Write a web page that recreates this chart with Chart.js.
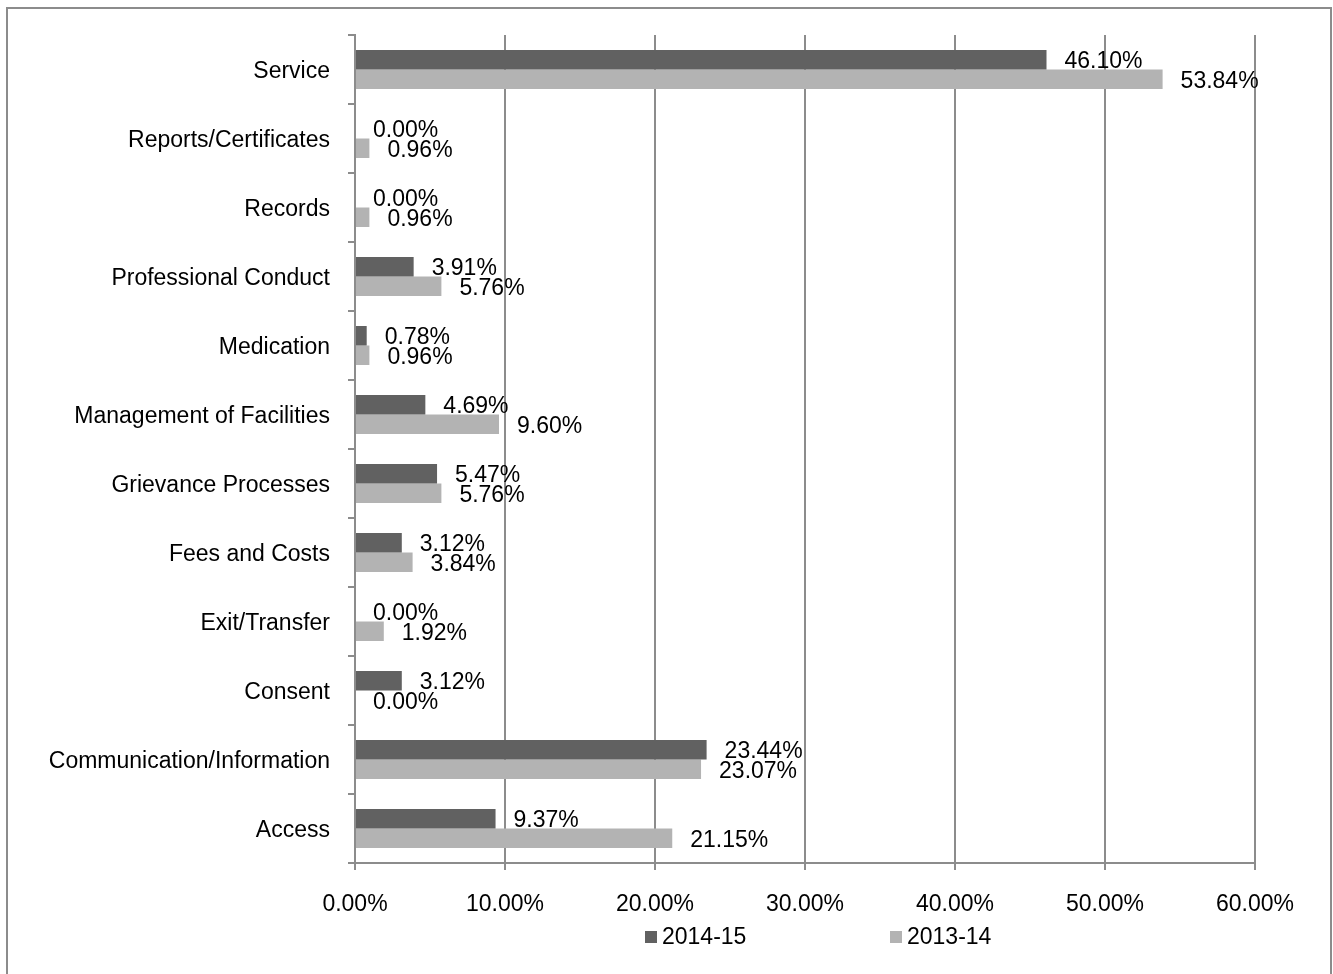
<!DOCTYPE html>
<html>
<head>
<meta charset="utf-8">
<title>Complaint categories 2014-15 vs 2013-14</title>
<script src="https://cdn.jsdelivr.net/npm/chart.js@4.4.1/dist/chart.umd.min.js"></script>
<style>
  html, body { margin: 0; padding: 0; background: #ffffff; }
  canvas { display: block; }
</style>
</head>
<body>
<canvas id="chart" width="1333" height="974"></canvas>
<script>
// Complaint categories, listed top to bottom
const categories = [
  'Service',
  'Reports/Certificates',
  'Records',
  'Professional Conduct',
  'Medication',
  'Management of Facilities',
  'Grievance Processes',
  'Fees and Costs',
  'Exit/Transfer',
  'Consent',
  'Communication/Information',
  'Access'
];

// Share of complaints (%) per category
const values2014_15 = [46.10, 0.00, 0.00, 3.91, 0.78, 4.69, 5.47, 3.12, 0.00, 3.12, 23.44, 9.37];
const values2013_14 = [53.84, 0.96, 0.96, 5.76, 0.96, 9.60, 5.76, 3.84, 1.92, 0.00, 23.07, 21.15];

const seriesNames = ['2014-15', '2013-14'];
const seriesColors = ['#616161', '#b3b3b3'];

const FONT = '"Liberation Sans", Arial, sans-serif';
const AXIS_GRAY = '#8c8c8c';

Chart.defaults.font.family = FONT;
Chart.defaults.font.size = 23;
Chart.defaults.color = '#000000';

// Thin grey frame around the whole chart
const framePlugin = {
  id: 'frame',
  beforeDraw(chart) {
    const ctx = chart.ctx;
    ctx.save();
    ctx.strokeStyle = AXIS_GRAY;
    ctx.lineWidth = 2;
    ctx.strokeRect(7, 8, 1324, 1000);
    ctx.restore();
  }
};

// Value labels just past the end of each bar
const valueLabelPlugin = {
  id: 'valueLabels',
  afterDatasetsDraw(chart) {
    const ctx = chart.ctx;
    ctx.save();
    ctx.font = '23px ' + FONT;
    ctx.fillStyle = '#000000';
    ctx.textAlign = 'left';
    ctx.textBaseline = 'middle';
    chart.data.datasets.forEach((ds, di) => {
      const meta = chart.getDatasetMeta(di);
      meta.data.forEach((bar, i) => {
        const v = ds.data[i];
        ctx.fillText(v.toFixed(2) + '%', bar.x + 18, bar.y + 2);
      });
    });
    ctx.restore();
  }
};

// Series key under the axis labels
const keyPlugin = {
  id: 'seriesKey',
  afterDraw(chart) {
    const ctx = chart.ctx;
    const starts = [645, 890];
    const y = 937;
    ctx.save();
    ctx.font = '23px ' + FONT;
    ctx.textAlign = 'left';
    ctx.textBaseline = 'middle';
    chart.data.datasets.forEach((ds, i) => {
      ctx.fillStyle = ds.backgroundColor;
      ctx.fillRect(starts[i], y - 6, 12, 12);
      ctx.fillStyle = '#000000';
      ctx.fillText(ds.label, starts[i] + 17, y + 1);
    });
    ctx.restore();
  }
};

new Chart(document.getElementById('chart'), {
  type: 'bar',
  data: {
    labels: categories,
    datasets: [
      { label: seriesNames[0], data: values2014_15, backgroundColor: seriesColors[0], borderWidth: 0 },
      { label: seriesNames[1], data: values2013_14, backgroundColor: seriesColors[1], borderWidth: 0 }
    ]
  },
  options: {
    indexAxis: 'y',
    responsive: false,
    animation: false,
    devicePixelRatio: 1,
    layout: { padding: { top: 35, right: 78, bottom: 51, left: 0 } },
    datasets: {
      bar: { categoryPercentage: 0.566, barPercentage: 1.0 }
    },
    plugins: {
      legend: { display: false },
      tooltip: { enabled: false }
    },
    scales: {
      x: {
        min: 0,
        max: 60,
        ticks: {
          stepSize: 10,
          padding: 21,
          color: '#000000',
          font: { size: 23 },
          callback: (v) => Number(v).toFixed(2) + '%'
        },
        grid: {
          color: AXIS_GRAY,
          lineWidth: 2,
          tickLength: 7,
          drawTicks: true
        },
        border: { display: true, color: AXIS_GRAY, width: 2 },
        afterFit(scale) { scale.height = 60; }
      },
      y: {
        ticks: {
          padding: 18,
          labelOffset: 2,
          color: '#000000',
          font: { size: 23 },
          autoSkip: false
        },
        grid: {
          offset: true,
          drawOnChartArea: false,
          drawTicks: true,
          tickLength: 7,
          color: AXIS_GRAY,
          lineWidth: 2
        },
        border: { display: true, color: AXIS_GRAY, width: 2 },
        afterFit(scale) { scale.width = 355; }
      }
    }
  },
  plugins: [framePlugin, valueLabelPlugin, keyPlugin]
});
</script>
</body>
</html>
